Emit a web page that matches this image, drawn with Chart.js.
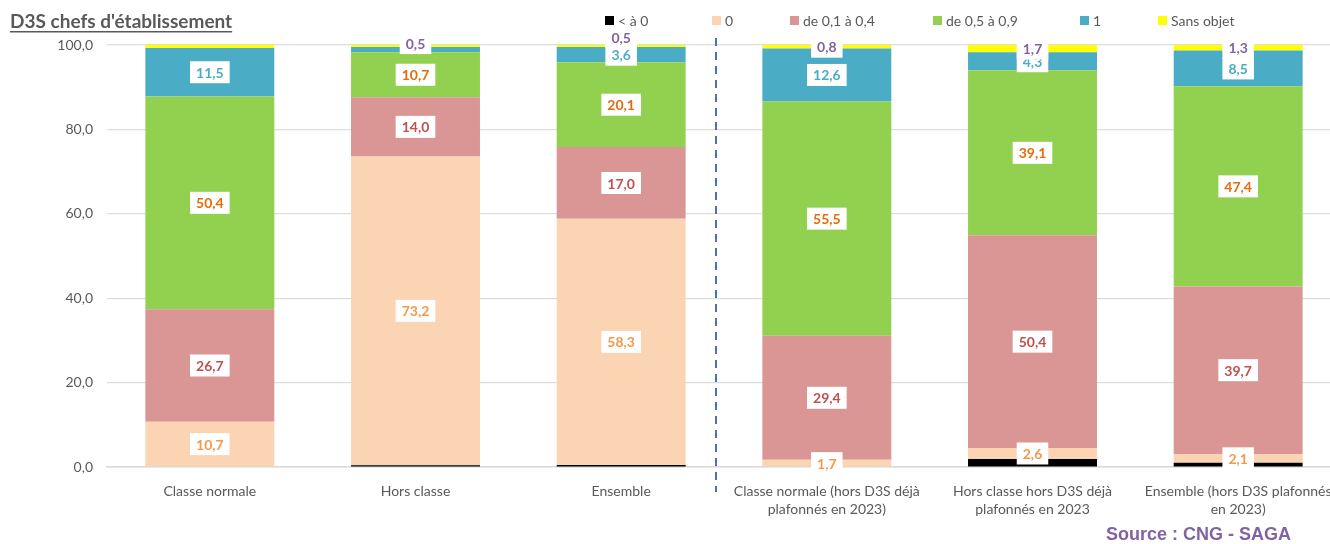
<!DOCTYPE html>
<html>
<head>
<meta charset="utf-8">
<script src="https://cdn.jsdelivr.net/npm/chart.js@4"></script>
<style>
  html, body { margin: 0; padding: 0; background: #fff; overflow: hidden; }
  #wrap { width: 1345px; height: 544px; }
</style>
</head>
<body>
<div id="wrap"><canvas id="chart" width="1345" height="544"></canvas></div>
<script>
// Categories (x axis)
const categories = [
    'Classe normale',
    'Hors classe',
    'Ensemble',
    ['Classe normale (hors D3S déjà', 'plafonnés en 2023)'],
    ['Hors classe hors D3S déjà', 'plafonnés en 2023'],
    ['Ensemble (hors D3S plafonnés', 'en 2023)']
];

// Series values (%)
const negatif   = [0.0, 0.4, 0.5, 0.0, 1.9, 1.0];
const zero      = [10.7, 73.2, 58.3, 1.7, 2.6, 2.1];
const de01a04   = [26.7, 14.0, 17.0, 29.4, 50.4, 39.7];
const de05a09   = [50.4, 10.7, 20.1, 55.5, 39.1, 47.4];
const un        = [11.5, 1.2, 3.6, 12.6, 4.3, 8.5];
const sansObjet = [0.7, 0.5, 0.5, 0.8, 1.7, 1.3];

const yTicks = [0, 20, 40, 60, 80, 100];

const seriesNames = ['< à 0', '0', 'de 0,1 à 0,4', 'de 0,5 à 0,9', '1', 'Sans objet'];
const seriesValues = [negatif, zero, de01a04, de05a09, un, sansObjet];
const fills = ['#000000', '#FBD4B4', '#D99694', '#92D050', '#4BACC6', '#FFFF00'];
const labelColors = [null, '#F29A4A', '#C0504D', '#E46C0A', '#4BACC6', '#8064A2'];

// labels Excel did not show, and the ones it moved
const hiddenLabels = ['5-0', '4-1'];
const labelNudge = { '5-2': -9, '5-1': -3 };

const fmt = v => v.toFixed(1).replace('.', ',');
const FONT = 'Lato, "Open Sans", sans-serif';
const GREY = '#595959';

const labelPlugin = {
    id: 'segLabels',
    afterDatasetsDraw(chart) {
        const ctx = chart.ctx;
        ctx.save();
        ctx.font = 'bold 14px ' + FONT;
        ctx.textAlign = 'center';
        ctx.textBaseline = 'middle';
        chart.data.datasets.forEach((ds, di) => {
            if (!labelColors[di]) return;
            const meta = chart.getDatasetMeta(di);
            meta.data.forEach((bar, i) => {
                if (hiddenLabels.includes(di + '-' + i)) return;
                const v = ds.data[i];
                const y = (bar.y + bar.base) / 2 + (labelNudge[di + '-' + i] || 0);
                const txt = fmt(v);
                const w = ctx.measureText(txt).width + 12;
                ctx.fillStyle = '#ffffff';
                ctx.fillRect(bar.x - w / 2, y - 11, w, 22);
                ctx.fillStyle = labelColors[di];
                ctx.fillText(txt, bar.x, y + 1);
            });
        });
        ctx.restore();
    }
};

const decorPlugin = {
    id: 'decor',
    afterDraw(chart) {
        const ctx = chart.ctx;
        const xs = chart.scales.x;
        ctx.save();

        // title
        ctx.font = 'bold 19px ' + FONT;
        ctx.fillStyle = GREY;
        ctx.textAlign = 'left';
        ctx.textBaseline = 'alphabetic';
        const title = "D3S chefs d'établissement";
        ctx.fillText(title, 10, 28);
        const tw = ctx.measureText(title).width;
        ctx.fillRect(10, 31, tw, 1.5);

        // legend
        const legendX = [605, 712, 790, 933, 1080, 1158];
        ctx.font = '14px ' + FONT;
        ctx.textBaseline = 'middle';
        seriesNames.forEach((name, i) => {
            ctx.fillStyle = fills[i];
            ctx.fillRect(legendX[i], 16, 9, 9);
            ctx.fillStyle = GREY;
            ctx.fillText(name, legendX[i] + 13, 21);
        });

        // dashed separator between the two groups
        const sepX = (xs.getPixelForValue(2) + xs.getPixelForValue(3)) / 2 - 8;
        ctx.strokeStyle = '#4472C4';
        ctx.lineWidth = 2;
        ctx.setLineDash([8, 6]);
        ctx.beginPath();
        ctx.moveTo(sepX, 38);
        ctx.lineTo(sepX, 492);
        ctx.stroke();
        ctx.setLineDash([]);

        // source
        ctx.font = 'bold 18px "Liberation Sans", Arial, sans-serif';
        ctx.fillStyle = '#8064A2';
        ctx.textAlign = 'right';
        ctx.fillText('Source : CNG - SAGA', 1291, 535);
        ctx.restore();
    }
};

const chart = new Chart(document.getElementById('chart'), {
    type: 'bar',
    data: {
        labels: categories,
        datasets: seriesValues.map((vals, i) => ({
            label: seriesNames[i],
            data: vals,
            backgroundColor: fills[i],
            borderWidth: 0,
            categoryPercentage: 1,
            barPercentage: 0.627
        }))
    },
    options: {
        responsive: false,
        animation: false,
        layout: { padding: { top: 45, right: 4, bottom: 0, left: 0 } },
        plugins: {
            legend: { display: false },
            tooltip: { enabled: false }
        },
        scales: {
            x: {
                stacked: true,
                grid: { display: false },
                border: { display: true, color: '#D9D9D9', width: 1.5 },
                ticks: {
                    color: GREY,
                    font: { family: FONT, size: 14, lineHeight: 1.3 },
                    padding: 7,
                    maxRotation: 0,
                    autoSkip: false
                },
                afterFit(s) { s.height = 77; }
            },
            y: {
                stacked: true,
                min: 0,
                max: 100,
                afterBuildTicks(s) { s.ticks = yTicks.map(v => ({ value: v })); },
                grid: { color: '#DDDDDD', lineWidth: 1.2, drawTicks: false },
                border: { display: false },
                ticks: {
                    color: GREY,
                    font: { family: FONT, size: 14 },
                    padding: 14,
                    callback: v => fmt(v)
                },
                afterFit(s) { s.width = 107; }
            }
        }
    },
    plugins: [labelPlugin, decorPlugin]
});
</script>
</body>
</html>
